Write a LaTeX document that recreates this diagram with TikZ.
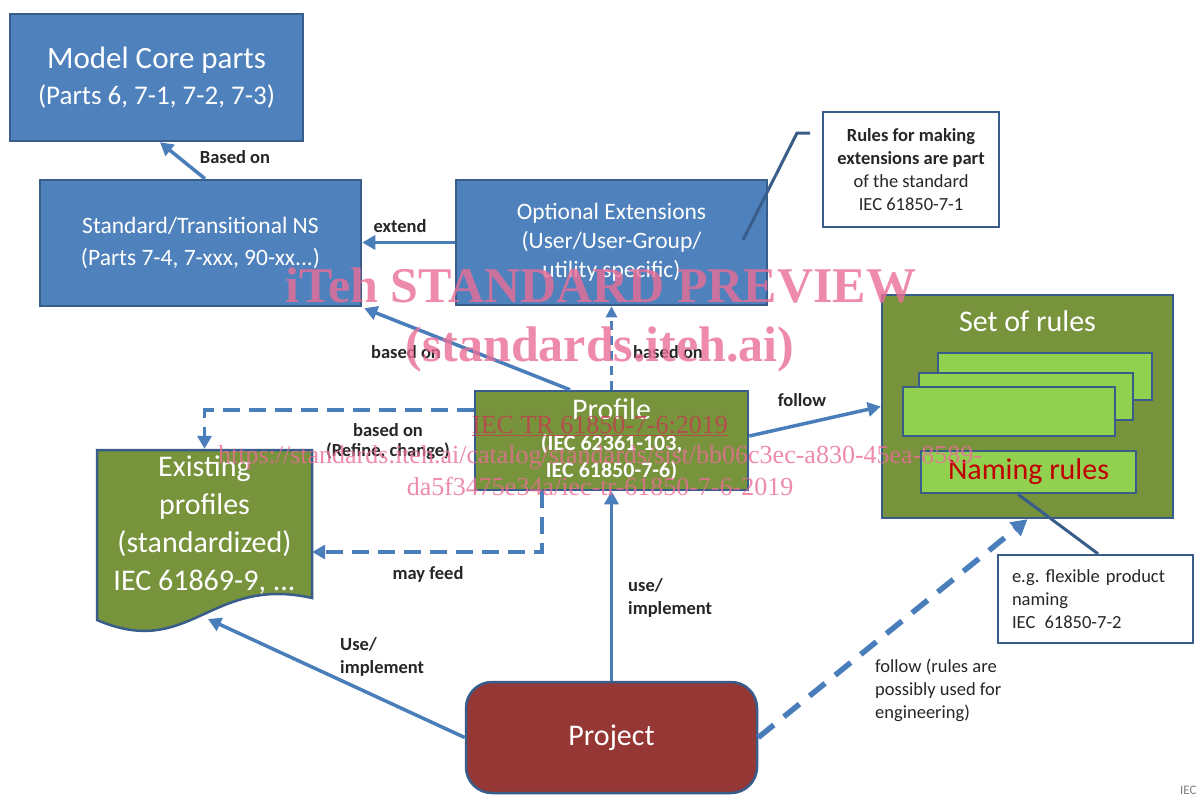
\documentclass[tikz,border=0pt]{standalone}
\usepackage{fontspec}
\setmainfont{Carlito}
\newfontfamily\wmfont{Liberation Serif}
\usetikzlibrary{arrows.meta,calc}
\definecolor{boxblue}{RGB}{79,129,189}
\definecolor{edgeblue}{RGB}{56,93,138}
\definecolor{arrowblue}{RGB}{74,126,187}
\definecolor{olivegreen}{RGB}{119,147,60}
\definecolor{lightgreen}{RGB}{146,208,80}
\definecolor{projred}{RGB}{149,55,53}
\definecolor{labelgray}{RGB}{38,38,38}
\definecolor{namered}{RGB}{192,0,0}
\definecolor{wmpink}{RGB}{234,110,150}
\definecolor{wmred}{RGB}{196,60,80}
\newcommand{\fsz}[2]{\fontsize{#1}{#2}\selectfont}
\frenchspacing
\begin{document}
\begin{tikzpicture}[x=1pt,y=-1pt,
  box/.style={draw=edgeblue, line width=2.5pt, text=white, align=center, inner sep=0pt},
  bluebox/.style={box, fill=boxblue},
  greenbox/.style={box, fill=olivegreen},
  rulecard/.style={draw=edgeblue, line width=2.5pt, fill=lightgreen, inner sep=0pt},
  notebox/.style={draw=edgeblue, line width=2.5pt, fill=white, text=labelgray, inner sep=0pt},
  lbl/.style={text=labelgray, font=\fsz{18.5}{23}\bfseries, inner sep=0pt},
  lblplain/.style={text=labelgray, font=\fsz{18.5}{23}, inner sep=0pt, align=left},
  arr/.style={draw=arrowblue, line width=3.5pt, -{Triangle[length=13pt,width=14pt]}},
  dasharr/.style={arr, dash pattern=on 17pt off 9pt},
  thindash/.style={arr, line width=2.5pt, dash pattern=on 9pt off 6pt, -{Triangle[length=11pt,width=11pt]}},
  thickdash/.style={arr, line width=5.5pt, dash pattern=on 20pt off 13pt, -{Triangle[length=16pt,width=17pt]}},
  calloutline/.style={draw=edgeblue, line width=3pt},
  wm/.style={text=wmpink, text opacity=0.8, inner sep=0pt, anchor=base}
]
\useasboundingbox (0,0) rectangle (1196,796);
\fill[white] (0,0) rectangle (1196,796);

% boxes
\node[bluebox, minimum width=293pt, minimum height=127pt, font=\fsz{31}{36}] (core) at (156.5,77.5)
  {Model Core parts\\\fsz{27}{36}(Parts 6, 7-1, 7-2, 7-3)};
\node[bluebox, minimum width=321pt, minimum height=126pt, font=\fsz{23.5}{32}] (std) at (200.5,243)
  {Standard/Transitional NS\\(Parts 7-4, 7-xxx, 90-xx...)};
\node[bluebox, minimum width=311pt, minimum height=125pt, font=\fsz{23.5}{29}] (opt) at (611.5,242.5)
  {Optional Extensions\\(User/User-Group/\\utility specific)};
\node[notebox, minimum width=176pt, minimum height=115pt, align=center, font=\fsz{18.5}{23}] (rulesnote) at (911,169.5)
  {\textbf{Rules for making}\\\textbf{extensions are part}\\of the standard\\IEC 61850-7-1};
\node[greenbox, minimum width=273pt, minimum height=99pt] (prof) at (611.5,440.5) {};
\node[text=white, inner sep=0pt, font=\fsz{30}{30}] (proftitle) at (611.5,409) {Profile};
\node[text=white, inner sep=0pt, align=center, font=\fsz{22}{27}\bfseries] (profsub) at (611.5,457) {(IEC 62361-103,\\IEC 61850-7-6)};

% set of rules
\node[greenbox, minimum width=291pt, minimum height=223pt] (rules) at (1027.5,406.5) {};
\node[text=white, inner sep=0pt, font=\fsz{30}{30}] (rulestitle) at (1027.5,321) {Set of rules};
\node[rulecard, minimum width=214pt, minimum height=47pt] (card1) at (1045,376.5) {};
\node[rulecard, minimum width=214pt, minimum height=47pt] (card2) at (1026,396.5) {};
\node[rulecard, minimum width=212pt, minimum height=49pt] (card3) at (1009,411.5) {};
\node[rulecard, minimum width=215pt, minimum height=42pt, text=namered, font=\fsz{30}{30}] (naming) at (1028.5,472) {Naming rules};

% note for naming rules
\node[notebox, minimum width=195pt, minimum height=88pt, text width=167pt, inner xsep=14pt, align=left, font=\fsz{18.5}{23}] (egnote) at (1095.5,599)
  {e.g. flexible product\\naming\\IEC\, 61850-7-2};

% existing profiles (document shape)
\path[draw=edgeblue, line width=2.5pt, fill=olivegreen]
  (97,450) -- (312,450) -- (312,598) .. controls (210,575) and (190,660) .. (97,620) -- cycle;
\node[text=white, inner sep=0pt, align=center, font=\fsz{30}{38}, minimum width=215pt, minimum height=150pt] (exist) at (204.5,525)
  {Existing\\profiles\\(standardized)\\IEC 61869-9, ...};
\coordinate (exbot) at (208,619);

% project
\node[box, fill=projred, rounded corners=26pt, minimum width=291pt, minimum height=111pt, font=\fsz{30}{30}] (proj) at (611.5,737.5) {Project};

% callout lines
\coordinate (c1a) at (743,240);
\coordinate (c1b) at (797,133);
\coordinate (c1c) at (810,133);
\draw[calloutline] (c1a) -- (c1b) -- (c1c);
\draw[calloutline] ([xshift=-10.5pt]naming.south) -- ([xshift=2.5pt]egnote.north);

% connectors
\draw[arr] ([xshift=4.5pt]std.north) -- ([xshift=3.5pt]core.south);
\draw[arr] (opt.west) -- (opt.west -| std.east);
\draw[arr] ([xshift=-41.5pt]prof.north) -- ([xshift=2pt,yshift=-1pt]std.south east);
\draw[thindash] (prof.north) -- (opt.south);
\draw[dasharr] ([yshift=30.5pt]prof.west) -| ([yshift=1pt]exist.north);
\draw[dasharr] ([xshift=-69.5pt]prof.south) |- ([yshift=-27pt]exist.east);
\draw[arr] ([yshift=4.5pt]prof.east) -- (rules.west);
\draw[arr] (proj.north) -- (prof.south);
\draw[arr] (proj.west) -- (exbot);
\draw[thickdash] (proj.east) -- (rules.south);

% labels
\node[lbl] (lbasedcore) at (235,157) {Based on};
\node[lbl] (lextend) at (400,226) {extend};
\node[lbl] (lbased1) at (406,352) {based on};
\node[lbl] (lbased2) at (668,352) {based on};
\node[lbl] (lbased3) at (388,430) {based on};
\node[lbl] (lrefine) at (388,451) {(Refine, change)};
\node[lbl] (lfeed) at (428,574) {may feed};
\node[lbl] (lfollow) at (802,400) {follow};
\node[lbl, align=left, anchor=west] (luse1) at (628,598) {use/\\implement};
\node[lbl, align=left, anchor=west] (luse2) at (340,657) {Use/\\implement};
\node[lblplain, anchor=west] (lfollow2) at (875,690) {follow (rules are\\possibly used for\\engineering)};
\node[text=gray, inner sep=0pt, anchor=west, font=\fsz{13}{14}] (iecfrag) at (1180,790) {IEC};

% watermark
\node[wm, font=\wmfont\bfseries\fsz{50}{56}] (wm1) at (601,302) {iTeh STANDARD PREVIEW};
\node[wm, font=\wmfont\bfseries\fsz{50}{56}] (wm2) at (600,361) {(standards.iteh.ai)};
\node[wm, text=wmred, font=\wmfont\fsz{26}{30}] (wm3) at (600,433) {\underline{IEC TR 61850-7-6:2019}};
\node[wm, font=\wmfont\fsz{26}{30}] (wm4) at (600,463) {https://standards.iteh.ai/catalog/standards/sist/bb06c3ec-a830-45ea-8589-};
\node[wm, font=\wmfont\fsz{26}{30}] (wm5) at (600,495) {da5f3475e34a/iec-tr-61850-7-6-2019};
\end{tikzpicture}
\end{document}
